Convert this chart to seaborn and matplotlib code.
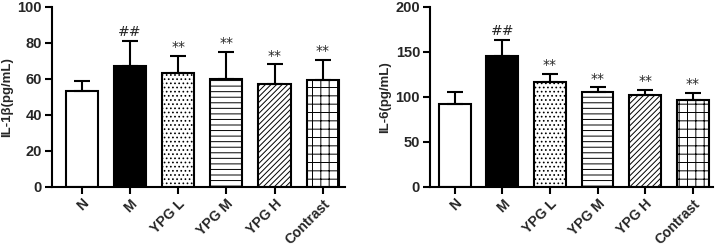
import numpy as np
import pandas as pd
import seaborn as sns
import matplotlib
matplotlib.use("Agg")
import matplotlib.pyplot as plt

groups = ["N", "M", "YPG L", "YPG M", "YPG H", "Contrast"]
il1b_mean = [53.1, 67.4, 63.3, 60.2, 57.0, 59.3]
il1b_sd = [5.8, 13.6, 9.5, 14.6, 11.1, 11.3]
il6_mean = [92, 145, 117, 105, 102, 97]
il6_sd = [13.5, 18.7, 9.0, 5.5, 6.0, 7.5]
marks = ["", "##", "**", "**", "**", "**"]

colors = ["white", "black", "white", "white", "white", "white"]
hatches = [None, None, "....", "---", "//////", "++"]

sns.set_theme(style="ticks")
plt.rcParams["font.family"] = ["Liberation Sans", "DejaVu Sans"]
plt.rcParams["hatch.linewidth"] = 0.7
plt.rcParams["hatch.color"] = "#333333"

fig = plt.figure(figsize=(7.2, 2.46), dpi=100)
ax1 = fig.add_axes([0.072, 0.24, 0.407, 0.732])
ax2 = fig.add_axes([0.597, 0.24, 0.393, 0.732])


def panel(ax, means, sds, ylabel, ymax, step, xlim):
    df = pd.DataFrame({"group": groups, "value": means})
    sns.barplot(data=df, x="group", y="value", ax=ax, width=0.67,
                palette=colors, hue="group", legend=False,
                edgecolor="black", linewidth=1.5, errorbar=None)
    for bar, h in zip(ax.patches, hatches):
        if h:
            bar.set_hatch(h)
    x = np.arange(len(groups))
    ax.errorbar(x, means, yerr=[np.zeros(len(sds)), sds], fmt="none",
                ecolor="black", elinewidth=1.5, capsize=6, capthick=1.5)
    for xi, m, s, t in zip(x, means, sds, marks):
        if t:
            ax.text(xi, m + s + ymax * 0.01, t, ha="center", va="bottom",
                    fontsize=10, fontfamily="DejaVu Sans")
    ax.set_ylim(0, ymax)
    ax.set_xlim(*xlim)
    ax.set_yticks(np.arange(0, ymax + 1, step))
    ax.set_xlabel("")
    ax.set_ylabel(ylabel, fontsize=9.5, fontweight="bold", labelpad=3)
    ax.set_xticks(x)
    ax.set_xticklabels(groups, rotation=45, ha="right", rotation_mode="anchor",
                       fontsize=10, fontweight="bold")
    for lab in ax.get_yticklabels():
        lab.set_fontweight("bold")
        lab.set_fontsize(10.5)
    ax.tick_params(axis="both", width=1.5, length=5, color="black", pad=2)
    sns.despine(ax=ax)
    for sp in ["left", "bottom"]:
        ax.spines[sp].set_linewidth(1.5)
        ax.spines[sp].set_color("black")


panel(ax1, il1b_mean, il1b_sd, "IL-1β(pg/mL)", 100, 20, (-0.62, 5.46))
panel(ax2, il6_mean, il6_sd, "IL-6(pg/mL)", 200, 50, (-0.52, 5.42))

fig.savefig("out.png", dpi=100)
